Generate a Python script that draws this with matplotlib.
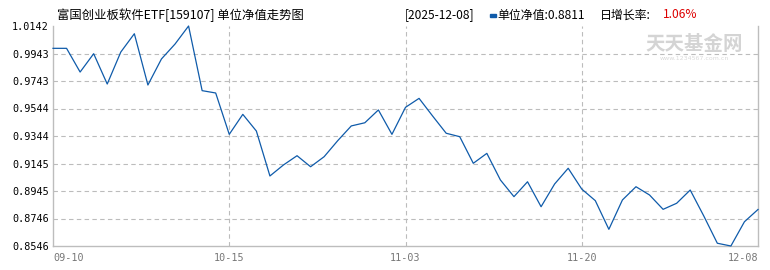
import matplotlib
matplotlib.use("Agg")
import matplotlib.pyplot as plt
import numpy as np

title = "富国创业板软件ETF[159107] 单位净值走势图"
latest_date = "2025-12-08"
latest_nav = "0.8811"
latest_chg = "1.06%"

nav = [0.9980, 0.9980, 0.9808, 0.9941, 0.9721, 0.9953, 1.0086, 0.9714, 0.9903, 1.0011,
       1.0142, 0.9673, 0.9656, 0.9356, 0.9501, 0.9380, 0.9054, 0.9134, 0.9201, 0.9121,
       0.9194, 0.9310, 0.9417, 0.9440, 0.9533, 0.9356, 0.9552, 0.9617, 0.9489, 0.9364,
       0.9339, 0.9146, 0.9218, 0.9025, 0.8904, 0.9012, 0.8831, 0.8996, 0.9110, 0.8959,
       0.8875, 0.8667, 0.8880, 0.8976, 0.8916, 0.8812, 0.8856, 0.8952, 0.8764, 0.8566,
       0.8546, 0.8722, 0.8811]

x_tick_idx = [0, 13, 26, 39, 52]
x_tick_labels = ["09-10", "10-15", "11-03", "11-20", "12-08"]
y_tick_labels = ["0.8546", "0.8746", "0.8945", "0.9145", "0.9344",
                 "0.9544", "0.9743", "0.9943", "1.0142"]

W, H = 770, 270
fig = plt.figure(figsize=(W / 100, H / 100), dpi=100)
L, R, T, B = 53, 758, 26, 246
ax = fig.add_axes([L / W, 1 - B / H, (R - L) / W, (B - T) / H])

x = np.arange(len(nav))
ax.plot(x, nav, color="#0F5BAA", lw=0.9, clip_on=False, zorder=3)

ymin, ymax = float(y_tick_labels[0]), float(y_tick_labels[-1])
ax.set_xlim(0, len(nav) - 1)
ax.set_ylim(ymin, ymax)

yt = np.linspace(ymin, ymax, len(y_tick_labels))
ax.set_yticks(yt)
ax.set_yticklabels(y_tick_labels, family="DejaVu Sans Mono", fontsize=7.3, color="black")
ax.set_xticks(x_tick_idx)
xl = ax.set_xticklabels(x_tick_labels, family="DejaVu Sans Mono", fontsize=7.3, color="#777777")
xl[0].set_ha("left")
xl[-1].set_ha("right")
ax.tick_params(length=0, pad=3)
ax.tick_params(axis="x", pad=5)

grid_kw = dict(color="#bcbcbc", lw=0.8, ls=(0, (4, 3)), zorder=1)
for v in yt[1:-1]:
    ax.axhline(v, **grid_kw)
for i in x_tick_idx[1:-1]:
    ax.axvline(i, **grid_kw)

for s in ["left", "bottom", "right"]:
    ax.spines[s].set_color("#bdbdbd")
    ax.spines[s].set_linewidth(1.0)
ax.spines["top"].set_visible(False)

cjk = ["Noto Sans CJK SC", "DejaVu Sans"]

def px(xp, yp):
    return xp / W, 1 - yp / H

fig.text(*px(57, 15), title, family=cjk, fontsize=8.9, va="center", ha="left", color="black")
fig.text(*px(405, 15), "[" + latest_date + "]", family=cjk, fontsize=8.6, va="center", ha="left", color="black")
fig.patches.append(plt.Rectangle(px(490, 16.5), 6 / W, 2.5 / H, transform=fig.transFigure,
                                 color="#0F5BAA", figure=fig))
fig.text(*px(497, 15), "单位净值:" + latest_nav, family=cjk, fontsize=8.6, va="center", ha="left", color="black")
fig.text(*px(600, 15), "日增长率:", family=cjk, fontsize=8.6, va="center", ha="left", color="black")
fig.text(*px(663, 15), latest_chg, family=cjk, fontsize=8.6, va="center", ha="left", color="#dd0000")

fig.text(*px(694, 45), "天天基金网", family=cjk, fontsize=14, fontweight="bold",
         va="center", ha="center", color="#d4d4d4", zorder=0)
fig.text(*px(694, 59), "www.1234567.com.cn", family="DejaVu Sans", fontsize=4.5,
         va="center", ha="center", color="#dadada", zorder=0)

fig.savefig("out.png", dpi=100)
